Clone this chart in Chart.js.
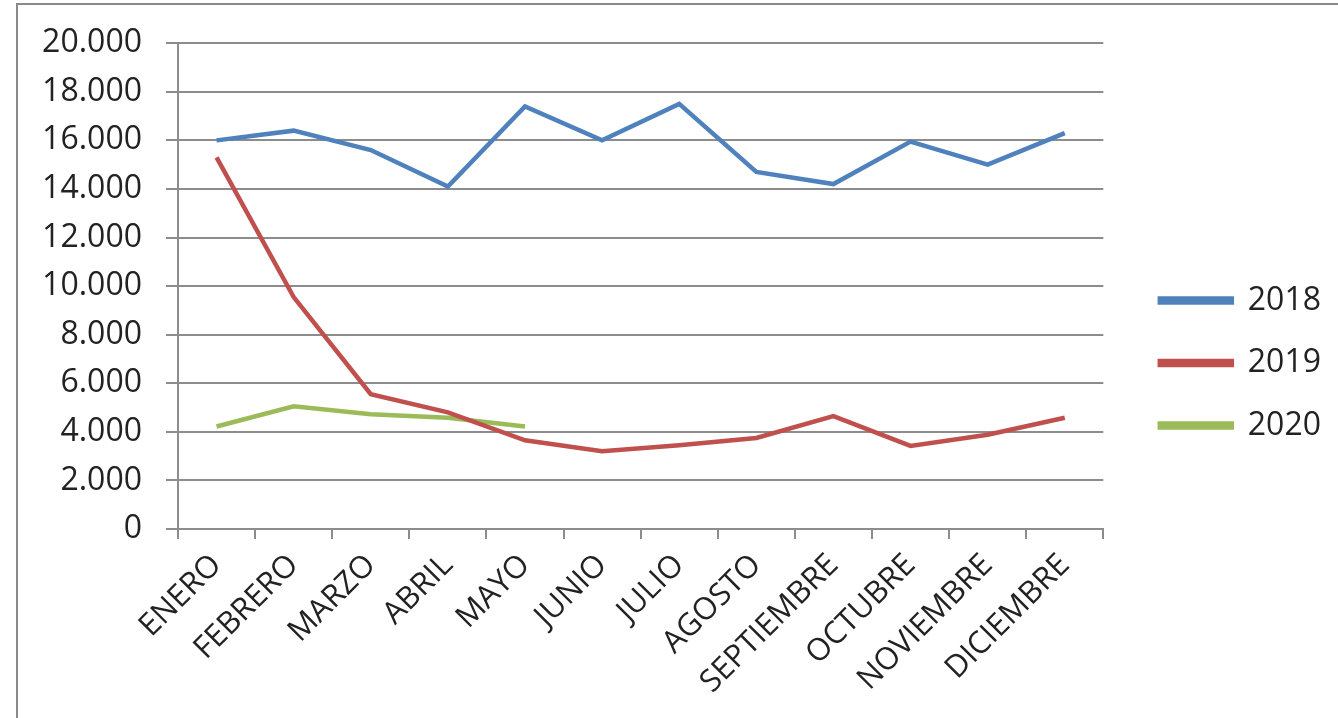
<!DOCTYPE html>
<html>
<head>
<meta charset="utf-8">
<script src="https://cdn.jsdelivr.net/npm/chart.js@4/dist/chart.umd.min.js"></script>
<style>
  html, body { margin: 0; padding: 0; background: #fff; }
  #wrap { position: relative; width: 1338px; height: 718px; }
  #frame {
    position: absolute; left: 16px; top: 3px; right: 0; bottom: 0;
    border-top: 2px solid #8a8a8a; border-left: 2px solid #8a8a8a;
    pointer-events: none;
  }
</style>
</head>
<body>
<div id="wrap">
  <canvas id="chartLine" width="1338" height="718"></canvas>
  <div id="frame"></div>
</div>
<script>
const meses = ["ENERO", "FEBRERO", "MARZO", "ABRIL", "MAYO", "JUNIO", "JULIO",
    "AGOSTO", "SEPTIEMBRE", "OCTUBRE", "NOVIEMBRE", "DICIEMBRE"];
const datos2018 = [16000, 16400, 15600, 14100, 17400, 16000, 17500, 14700, 14200, 15950, 15000, 16300];
const datos2019 = [15300, 9550, 5550, 4800, 3650, 3200, 3450, 3750, 4650, 3420, 3880, 4580];
const datos2020 = [4220, 5050, 4720, 4580, 4220];
const yMin = 0;
const yMax = 20000;
const yStep = 2000;

const fuente = "'Open Sans', 'Liberation Sans', sans-serif";

function serie(label, data, color) {
    return {
        label: label,
        data: data,
        borderColor: color,
        backgroundColor: color,
        borderWidth: 4.5,
        pointRadius: 0,
        tension: 0,
    };
}

// miles con punto: 20000 -> 20.000
function miles(v) {
    return String(v).replace(/\B(?=(\d{3})+(?!\d))/g, ".");
}

const chartLine = new Chart("chartLine", {
    type: "line",
    data: {
    labels: meses,
    datasets: [
        serie("2018", datos2018, "#4F81BD"),
        serie("2019", datos2019, "#C0504D"),
        serie("2020", datos2020, "#9BBB59"),
    ],
    },
    options: {
    responsive: false,
    animation: false,
    layout: { padding: { top: 8, right: 7, bottom: 0, left: 0 } },
    plugins: {
        tooltip: { enabled: false },
        legend: {
        position: "right",
        labels: {
            boxWidth: 72,
            boxHeight: 4,
            padding: 30.5,
            color: "#222",
            font: { family: fuente, size: 32 },
        },
        },
    },
    scales: {
        x: {
        offset: true,
        grid: {
            offset: true,
            drawOnChartArea: false,
            drawTicks: true,
            tickLength: 10,
            color: "#8c8c8c",
            lineWidth: 2,
        },
        border: { color: "#8c8c8c", width: 2 },
        ticks: {
            minRotation: 45,
            maxRotation: 45,
            autoSkip: false,
            padding: 8,
            color: "#222",
            font: { family: fuente, size: 31 },
        },
        afterFit: (s) => { s.height = 189; },
        },
        y: {
        min: yMin,
        max: yMax,
        ticks: {
            stepSize: yStep,
            padding: 24,
            color: "#222",
            font: { family: fuente, size: 32 },
            callback: (v) => miles(v),
        },
        grid: {
            color: "#8c8c8c",
            lineWidth: 2,
            drawTicks: true,
            tickLength: 12,
        },
        border: { color: "#8c8c8c", width: 2 },
        afterFit: (s) => { s.width = 178; },
        },
        arriba: {
        type: "category",
        position: "top",
        display: true,
        grid: { display: false },
        border: { display: false },
        ticks: { display: false },
        afterFit: (s) => { s.height = 32; },
        },
        relleno: {
        position: "right",
        display: true,
        grid: { display: false },
        border: { display: false },
        ticks: { display: false },
        afterFit: (s) => { s.width = 26; },
        },
    },
    },
});
</script>
</body>
</html>
